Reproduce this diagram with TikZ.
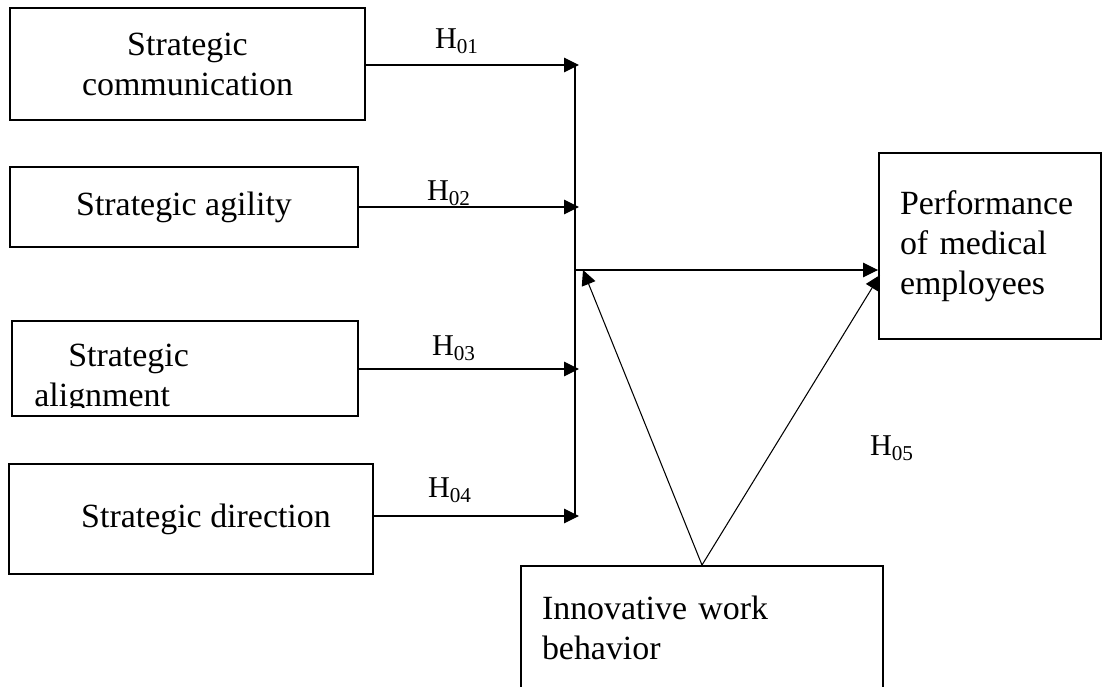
\documentclass[tikz,border=0pt]{standalone}
\usepackage{fontspec}
\setmainfont{Liberation Serif}
\usepackage{tikz}
\usetikzlibrary{arrows.meta}
\tikzstyle{nodocostrutto} = [rectangle,draw=black,line width=1.1pt,text=black,inner sep=0pt]
\tikzstyle{nodoipotesi} = [font=\fontsize{17.2}{20}\selectfont,inner sep=0pt]
\tikzstyle{freccia} = [line width=0.6pt,-{Triangle[length=0.3cm,width=0.29cm]}]

\begin{document}
\begin{tikzpicture}
\tikzstyle{every node}=[font=\fontsize{19.3}{22.8}\selectfont]

% pixel = 0.02cm, origin top left
\useasboundingbox (0,0) rectangle (22.08,-13.74);
\clip (0,0) rectangle (22.08,-13.74);

\node (comm)  [nodocostrutto,xshift=3.75cm,yshift=-1.28cm,minimum width=7.1cm,minimum height=2.24cm,align=center] {Strategic\\communication};
\node (agil)  [nodocostrutto,xshift=3.68cm,yshift=-4.14cm,minimum width=6.96cm,minimum height=1.6cm] {Strategic agility};
\node (align) [nodocostrutto,xshift=3.70cm,yshift=-7.37cm,minimum width=6.92cm,minimum height=1.9cm] {};
\node (dir)   [nodocostrutto,xshift=3.82cm,yshift=-10.38cm,minimum width=7.28cm,minimum height=2.2cm] {\hspace{0.6cm}Strategic direction};

\begin{scope}
\clip (align.north west) rectangle (align.east |- 0,-8.14);
\node (alignt) [anchor=west,inner sep=0pt,align=left,xshift=0.68cm,yshift=-7.58cm] {\hspace*{0.68cm}Strategic\\alignment};
\end{scope}

\node (perf)  [nodocostrutto,xshift=19.8cm,yshift=-4.92cm,minimum width=4.44cm,minimum height=3.72cm,inner xsep=0.42cm,text width=3.6cm,align=left] {Performance\\of medical\\employees};
\node (innov) [nodocostrutto,xshift=14.04cm,yshift=-12.56cm,minimum width=7.24cm,minimum height=2.48cm,inner xsep=0.42cm,text width=6.4cm,align=left] {Innovative work\\behavior};

\node (h1) [nodoipotesi,xshift=9.14cm,yshift=-0.82cm] {H\textsubscript{01}};
\node (h2) [nodoipotesi,xshift=8.98cm,yshift=-3.86cm] {H\textsubscript{02}};
\node (h3) [nodoipotesi,xshift=9.08cm,yshift=-6.96cm] {H\textsubscript{03}};
\node (h4) [nodoipotesi,xshift=9.00cm,yshift=-9.80cm] {H\textsubscript{04}};
\node (h5) [nodoipotesi,xshift=17.84cm,yshift=-8.96cm] {H\textsubscript{05}};

\coordinate (b1) at (11.58,-1.30);
\coordinate (b2) at (11.58,-4.14);
\coordinate (b3) at (11.58,-7.38);
\coordinate (b4) at (11.58,-10.32);
\coordinate (bustop) at (11.50,-1.30);
\coordinate (busbot) at (11.50,-10.34);
\coordinate (mid) at (11.48,-5.40);
\coordinate (midin) at (11.66,-5.40);
\coordinate (perfin) at (17.60,-5.50);

\draw[freccia] (comm.east |- b1) -- (b1);
\draw[freccia] (agil.east |- b2) -- (b2);
\draw[freccia] (align.east |- b3) -- (b3);
\draw[freccia] (dir.east |- b4) -- (b4);
\draw[line width=0.6pt] (bustop) -- (busbot);

\draw[freccia] (mid) -- (perf.west |- mid);
\draw[freccia] (innov.north) -- (midin);
\draw[freccia] (innov.north) -- (perfin);
\end{tikzpicture}
\end{document}
